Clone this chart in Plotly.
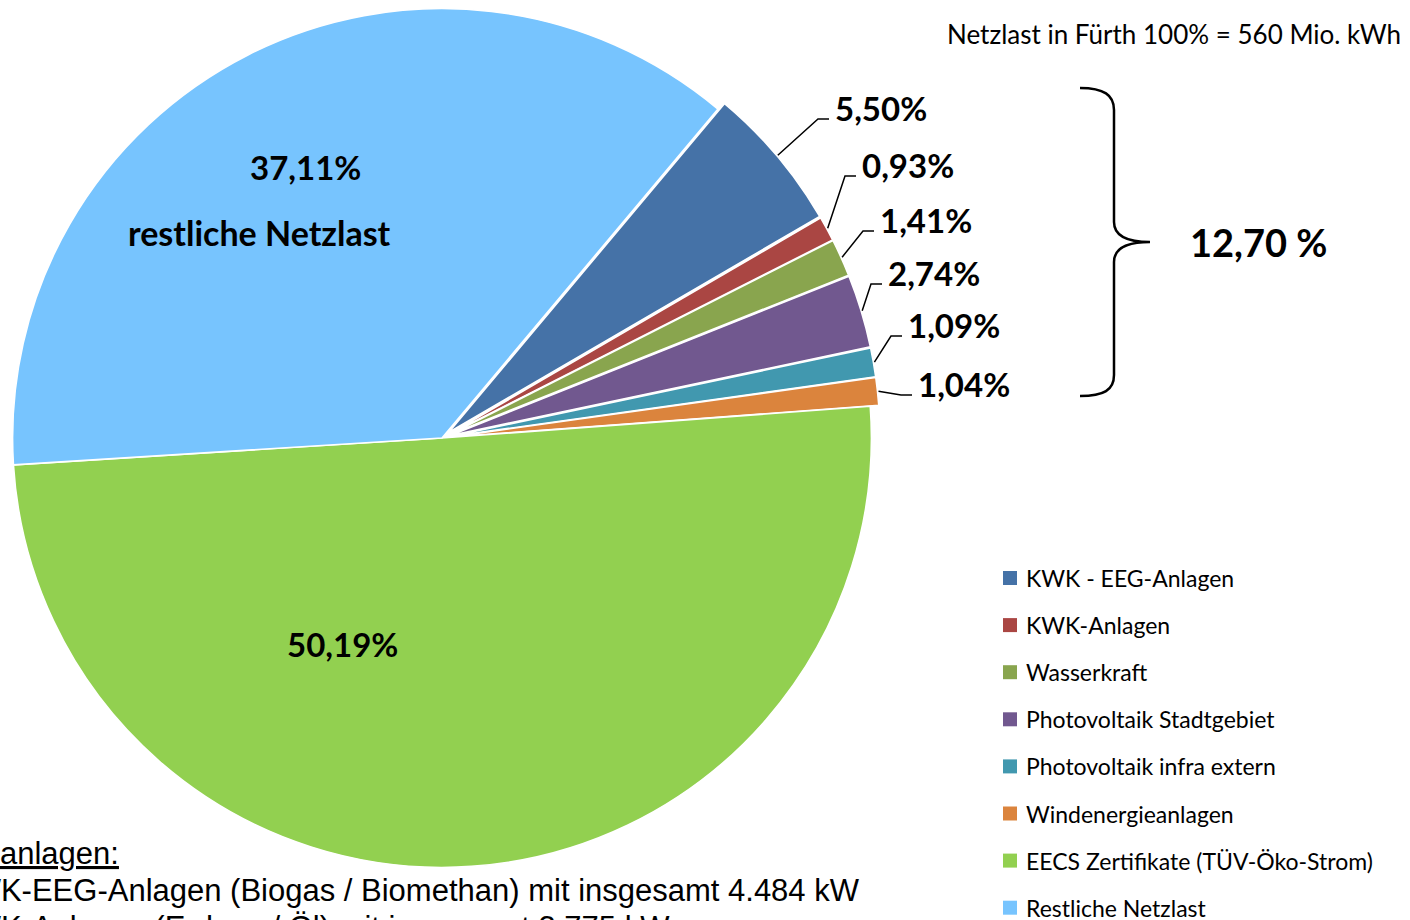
import math
import plotly.graph_objects as go

# Anteile an der Netzlast in Fürth (Prozent)
categories = ["KWK - EEG-Anlagen", "KWK-Anlagen", "Wasserkraft", "Photovoltaik Stadtgebiet",
              "Photovoltaik infra extern", "Windenergieanlagen",
              "EECS Zertifikate (TÜV-Öko-Strom)", "Restliche Netzlast"]
shares = [5.50, 0.93, 1.41, 2.74, 1.09, 1.04, 50.19, 37.11]
share_labels = ["5,50%", "0,93%", "1,41%", "2,74%", "1,09%", "1,04%", "50,19%", "37,11%"]
colors = ["#4572A7", "#AA4643", "#89A54E", "#71588F", "#4198AF", "#DB843D", "#92D050", "#77C4FE"]

title_text = "Netzlast in Fürth 100% = 560 Mio. kWh"
sum_text = "12,70 %"
rest_text = "restliche Netzlast"
notes = ["<u>anlagen:</u>",
         "KWK-EEG-Anlagen (Biogas / Biomethan) mit insgesamt 4.484 kW",
         "KWK-Anlagen (Erdgas / Öl) mit insgesamt 3.775 kW"]

W, H = 1410, 920
CX, CY = 442, 438          # pie centre in px
HALF = 438                 # half size of the pie domain
PULL = 0.02
ROTATION = 40
R = HALF / (1 + PULL)

# outside label positions (text left edge, centre y) for the small slices
label_pos = [(835, 108), (862, 165), (880, 220), (888, 273), (908, 325), (918, 384)]

BOLD = "Lato"
LBL = 33
pulls = [PULL] * 6 + [0, 0]

fig = go.Figure()
fig.add_trace(go.Pie(
    labels=categories, values=shares, sort=False, direction="clockwise",
    rotation=ROTATION, pull=pulls, textinfo="none", hoverinfo="label+percent",
    marker=dict(colors=colors, line=dict(color="white", width=1.6)),
    domain=dict(x=[(CX - HALF) / W, (CX + HALF) / W], y=[1 - (CY + HALF) / H, 1 - (CY - HALF) / H]),
    showlegend=False,
))
# empty trace so the pixel coordinate axes exist
fig.add_trace(go.Scatter(x=[None], y=[None], showlegend=False, hoverinfo="skip"))

annotations = []
shapes = []

total = sum(shares)
cum = 0
for i, v in enumerate(shares):
    mid = math.radians(ROTATION + 360 * (cum + v / 2) / total)
    cum += v
    if i < 6:
        rr = R * (1 + pulls[i]) + 1
        sx, sy = CX + rr * math.sin(mid), CY - rr * math.cos(mid)
        tx, ty = label_pos[i]
        path = f"M {sx:.1f},{sy:.1f} L {tx - 17},{ty + 11} L {tx - 6},{ty + 11}"
        shapes.append(dict(type="path", path=path, xref="x", yref="y",
                           line=dict(color="black", width=1.5)))
        annotations.append(dict(x=tx - 2, y=ty, text=f"<b>{share_labels[i]}</b>", xanchor="left",
                                yanchor="middle", showarrow=False,
                                font=dict(family=BOLD, size=LBL, color="black")))

annotations.append(dict(x=305, y=167, text=f"<b>{share_labels[7]}</b>", showarrow=False,
                        font=dict(family=BOLD, size=LBL, color="black")))
annotations.append(dict(x=259, y=232, text=f"<b>{rest_text}</b>", showarrow=False,
                        font=dict(family=BOLD, size=LBL + 1, color="black")))
annotations.append(dict(x=342, y=644, text=f"<b>{share_labels[6]}</b>", showarrow=False,
                        font=dict(family=BOLD, size=LBL, color="black")))

# Überschrift rechts oben
annotations.append(dict(x=1403, y=34, text=title_text, xanchor="right", showarrow=False,
                        font=dict(family="Lato", size=26, color="black")))

# geschweifte Klammer + Summe
brace = ("M 1080,88 C 1104,88 1114,95 1114,110 L 1114,222 C 1114,236 1128,242 1150,242 "
         "C 1128,242 1114,248 1114,262 L 1114,375 C 1114,390 1104,396 1080,396")
shapes.append(dict(type="path", path=brace, xref="x", yref="y",
                   line=dict(color="black", width=2.5)))
annotations.append(dict(x=1188, y=242, text=f"<b>{sum_text}</b>", xanchor="left", showarrow=False,
                        font=dict(family=BOLD, size=38, color="black")))

# Legende (manuell, wegen Zeilenabstand)
for i, name in enumerate(categories):
    yy = 578 + i * 47.1
    shapes.append(dict(type="rect", xref="x", yref="y", x0=1003, x1=1017, y0=yy - 7, y1=yy + 7,
                       fillcolor=colors[i], line=dict(width=0)))
    annotations.append(dict(x=1024, y=yy, text=name, xanchor="left", showarrow=False,
                            font=dict(family="Lato", size=23, color="black")))

# Text unten links (links angeschnitten) - paper-Koordinaten, damit er nicht ausgeblendet wird
annotations.append(dict(xref="paper", yref="paper", x=-2 / W, y=1 - 853 / H, text=notes[0],
                        xanchor="left", yanchor="middle", showarrow=False,
                        font=dict(family="Liberation Sans", size=31, color="black")))
for j, line in enumerate(notes[1:]):
    annotations.append(dict(xref="paper", yref="paper", x=-51 / W, y=1 - (890 + 37 * j) / H,
                            text=line, xanchor="left", yanchor="middle", showarrow=False,
                            font=dict(family="Liberation Sans", size=31, color="black")))

fig.update_layout(
    width=W, height=H, margin=dict(l=0, r=0, t=0, b=0),
    paper_bgcolor="white", plot_bgcolor="rgba(0,0,0,0)",
    xaxis=dict(range=[0, W], visible=False, fixedrange=True),
    yaxis=dict(range=[H, 0], visible=False, fixedrange=True),
    shapes=shapes, annotations=annotations, showlegend=False,
)

fig.write_html("out.html", config={"displayModeBar": False},
               post_script="document.body.style.margin='0';")
